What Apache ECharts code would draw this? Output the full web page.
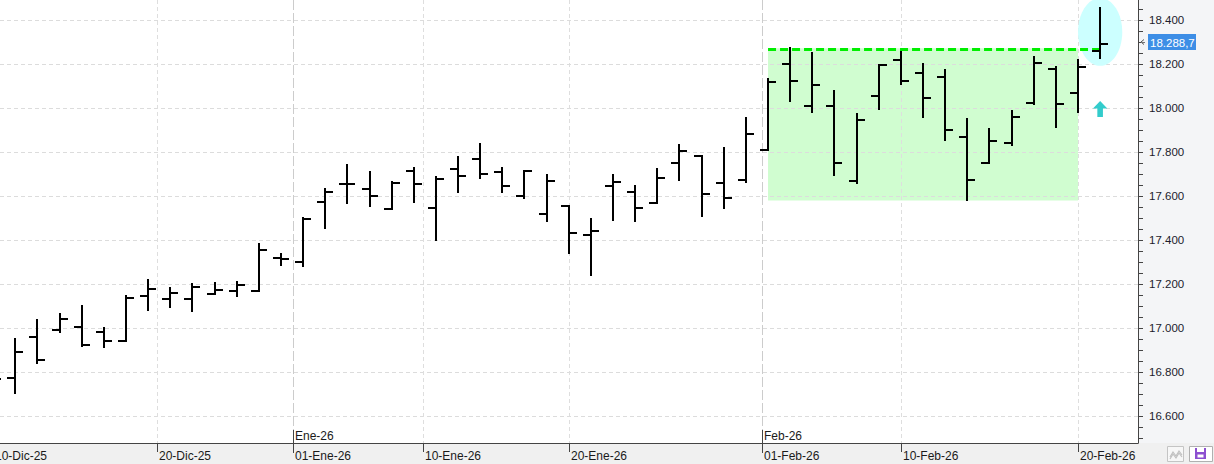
<!DOCTYPE html>
<html>
<head>
<meta charset="utf-8">
<script src="https://cdn.jsdelivr.net/npm/echarts@6/dist/echarts.min.js"></script>
<style>
html,body{margin:0;padding:0;background:#ffffff;}
#chart{width:1214px;height:464px;}
</style>
</head>
<body>
<div id="chart"></div>
<script>
// ---------- DATA ----------
const dates = [
  '10-Dic-25','11-Dic-25','12-Dic-25','15-Dic-25','16-Dic-25','17-Dic-25','18-Dic-25','19-Dic-25',
  '22-Dic-25','23-Dic-25','24-Dic-25','29-Dic-25','30-Dic-25','31-Dic-25',
  '02-Ene-26','05-Ene-26','06-Ene-26','07-Ene-26','08-Ene-26','09-Ene-26','12-Ene-26','13-Ene-26',
  '14-Ene-26','15-Ene-26','16-Ene-26','19-Ene-26','20-Ene-26','21-Ene-26','22-Ene-26','23-Ene-26',
  '26-Ene-26','27-Ene-26','28-Ene-26','29-Ene-26','30-Ene-26',
  '02-Feb-26','03-Feb-26','04-Feb-26','05-Feb-26','06-Feb-26','09-Feb-26','10-Feb-26','11-Feb-26',
  '12-Feb-26','13-Feb-26','16-Feb-26','17-Feb-26','18-Feb-26','19-Feb-26','20-Feb-26','23-Feb-26'
];
const opens = [
  16740,16771,16961,16991,17006,16980,16941,17145,
  17130,17132,17153,17170,17168,17320,
  17301,17574,17653,17632,17541,17714,17547,17721,
  17767,17710,17600,17518,17556,17423,17645,17620,
  17570,17749,17783,17661,17673,
  17810,18201,18009,18009,17668,18055,18218,18159,
  18142,17868,17750,17842,18024,18176,18070,18259
];
const highs = [
  16830,16953,17040,17070,17105,17006,17150,17221,
  17188,17206,17210,17215,17388,17342,
  17506,17635,17744,17714,17670,17730,17691,17782,
  17839,17730,17715,17700,17556,17499,17700,17650,
  17726,17836,17783,17821,17958,
  18135,18276,18253,18080,17976,18197,18259,18203,
  18176,17953,17908,17991,18236,18191,18223,18460
];
const lows = [
  16700,16699,16835,16976,16912,16908,16935,17079,
  17092,17074,17150,17139,17162,17283,
  17279,17449,17562,17551,17536,17567,17397,17615,
  17676,17612,17585,17480,17335,17238,17488,17480,
  17562,17670,17506,17541,17658,
  17805,18029,17979,17692,17653,17990,18103,17956,
  17851,17579,17747,17829,18014,17908,17979,18223
];
const closes = [
  16768,16890,16855,17041,16921,16942,17138,17176,
  17161,17188,17173,17195,17355,17312,
  17495,17620,17653,17601,17658,17653,17677,17692,
  17698,17647,17715,17668,17432,17442,17664,17547,
  17683,17806,17609,17592,17882,
  18120,18123,18106,17751,17945,18197,18123,18045,
  17901,17673,17851,17960,18203,18020,18188,18288.7
];
const yTicks = [16600,16800,17000,17200,17400,17600,17800,18000,18200,18400];
const yMinorTicks = [16500,16550,16600,16650,16700,16750,16800,16850,16900,16950,17000,17050,17100,17150,
  17200,17250,17300,17350,17400,17450,17500,17550,17600,17650,17700,17750,17800,17850,17900,17950,
  18000,18050,18100,18150,18200,18250,18300,18350,18400,18450];
const xTickPos = [0, 7.4, 13.53, 19.4, 26, 34.72, 41, 49];
const xTickLabels = ['10-Dic-25','20-Dic-25','01-Ene-26','10-Ene-26','20-Ene-26','01-Feb-26','10-Feb-26','20-Feb-26'];
const monthPos = [13.53, 34.72];
const monthLabels = ['Ene-26','Feb-26'];
const zoneBox = [35, 49, 17580, 18272];      // from index, to index, low, high
const resistance = [35, 50, 18268];           // from index, to index, level
const highlight = [50, 18346, 1.0, 154];      // center index, center value, half width (index), half height (value)
const signalArrow = [50, 17959];              // index, base value
const lastPrice = 18288.7;

// ---------- HELPERS ----------
const FONT = '"Liberation Sans", Arial, sans-serif';
function fmtThousands(v){
  const s = String(Math.trunc(v));
  return s.replace(/\B(?=(\d{3})+(?!\d))/g, '.');
}
function fmtPrice(v){
  const ip = Math.trunc(v);
  const dec = Math.round((v - ip) * 10);
  return fmtThousands(ip) + ',' + dec;
}
const X_MIN = 0.31, X_MAX = 51.71;

const chart = echarts.init(document.getElementById('chart'), null, {renderer: 'svg', width: 1214, height: 464});

const option = {
  animation: false,
  backgroundColor: '#ffffff',
  grid: {left: 0, right: 76, top: 0, bottom: 21, containLabel: false, outerBoundsMode: 'none'},
  graphic: [
    {type: 'rect', z: -10, silent: true, shape: {x: 1138, y: 0, width: 76, height: 443}, style: {fill: '#f4f5f7'}},
    {type: 'rect', z: -10, silent: true, shape: {x: 0, y: 443, width: 1214, height: 21}, style: {fill: '#f0f0f0'}},
    {type: 'rect', z: 10, silent: true, shape: {x: 1167.5, y: 446.5, width: 16, height: 15}, style: {fill: '#f7f7f7', stroke: '#c4c4c4', lineWidth: 1}},
    {type: 'polyline', z: 11, silent: true, shape: {points: [[1170,457],[1173,452],[1176,456],[1179,451],[1182,455]]}, style: {stroke: '#c0c0c0', lineWidth: 1.2, fill: null}},
    {type: 'polyline', z: 11, silent: true, shape: {points: [[1170,459],[1173,454],[1176,458],[1179,453],[1182,457]]}, style: {stroke: '#c0c0c0', lineWidth: 1.2, fill: null}},
    {type: 'rect', z: 10, silent: true, shape: {x: 1189.5, y: 446.5, width: 23, height: 15}, style: {fill: '#ffffff', stroke: '#b0b0b0', lineWidth: 1}},
    {type: 'rect', z: 11, silent: true, shape: {x: 1195, y: 448, width: 11, height: 11}, style: {fill: '#8c4fd0'}},
    {type: 'rect', z: 12, silent: true, shape: {x: 1197, y: 448, width: 7, height: 4}, style: {fill: '#ffffff'}},
    {type: 'rect', z: 12, silent: true, shape: {x: 1197.5, y: 454.5, width: 6, height: 3}, style: {fill: '#ffffff'}}
  ],
  xAxis: {
    type: 'value', min: X_MIN, max: X_MAX,
    axisLine: {show: true, onZero: false, lineStyle: {color: '#444444', width: 1}},
    axisTick: {show: false}, axisLabel: {show: false}, splitLine: {show: false}
  },
  yAxis: {
    type: 'value', position: 'right', min: 16477, max: 18491,
    axisLine: {show: true, lineStyle: {color: '#444444', width: 1}},
    axisTick: {show: true, length: 5, customValues: yMinorTicks, lineStyle: {color: '#444444'}},
    axisLabel: {show: true, customValues: yTicks, margin: 11, color: '#1c1c2c', fontSize: 11.5, fontFamily: FONT,
      formatter: v => fmtThousands(v)},
    splitLine: {show: false}, minorTick: {show: false}
  },
  series: [
    { // consolidation zone
      type: 'custom', z: 1, silent: true, clip: true,
      data: [zoneBox],
      encode: {x: [0, 1], y: [2, 3]},
      renderItem(params, api){
        const p1 = api.coord([api.value(0), api.value(3)]);
        const p2 = api.coord([api.value(1), api.value(2)]);
        return {type: 'rect', shape: {x: p1[0], y: p1[1], width: p2[0] - p1[0], height: p2[1] - p1[1]},
          style: {fill: '#d0fdd0'}};
      }
    },
    { // horizontal grid lines
      type: 'custom', z: 2, silent: true,
      data: yTicks.map(v => [v]),
      encode: {y: 0},
      renderItem(params, api){
        const cs = params.coordSys;
        const y = Math.round(api.coord([X_MIN, api.value(0)])[1]) + 0.5;
        return {type: 'line', shape: {x1: cs.x, y1: y, x2: cs.x + cs.width, y2: y},
          style: {stroke: '#dcdcdc', lineWidth: 1, lineDash: [4, 3]}};
      }
    },
    { // vertical grid lines, date ticks and labels
      type: 'custom', z: 2, silent: true, clip: false,
      data: xTickPos.map((p, i) => [p, i]),
      encode: {x: 0},
      renderItem(params, api){
        const cs = params.coordSys;
        const pos = api.value(0);
        const idx = api.value(1);
        const x = Math.round(api.coord([pos, 18000])[0]) + 0.5;
        const bottom = cs.y + cs.height;
        const mi = monthPos.indexOf(pos);
        const ch = [];
        if (mi >= 0) {
          ch.push({type: 'line', shape: {x1: x, y1: cs.y, x2: x, y2: bottom - 13},
            style: {stroke: '#cccccc', lineWidth: 1, lineDash: [10, 3]}});
          ch.push({type: 'line', shape: {x1: x, y1: bottom - 13, x2: x, y2: bottom + 10},
            style: {stroke: '#444444', lineWidth: 1}});
          ch.push({type: 'text', x: x + 1.5, y: bottom - 7.5,
            style: {text: monthLabels[mi], fill: '#1a1a1a', font: '12px ' + FONT, align: 'left', verticalAlign: 'middle'}});
        } else {
          ch.push({type: 'line', shape: {x1: x, y1: cs.y, x2: x, y2: bottom},
            style: {stroke: '#dedede', lineWidth: 1, lineDash: [4, 3]}});
          ch.push({type: 'line', shape: {x1: x, y1: bottom, x2: x, y2: bottom + 9},
            style: {stroke: '#444444', lineWidth: 1}});
        }
        ch.push({type: 'text', x: x + 1.5, y: bottom + 12.5,
          style: {text: xTickLabels[idx], fill: '#1a1a1a', font: '12px ' + FONT, align: 'left', verticalAlign: 'middle'}});
        return {type: 'group', children: ch};
      }
    },
    { // highlight ellipse
      type: 'custom', z: 3, silent: true, clip: true,
      data: [highlight],
      encode: {x: 0, y: 1},
      renderItem(params, api){
        const c = api.coord([api.value(0), api.value(1)]);
        const e = api.coord([api.value(0) + api.value(2), api.value(1) + api.value(3)]);
        return {type: 'ellipse', shape: {cx: c[0], cy: c[1], rx: e[0] - c[0], ry: c[1] - e[1]},
          style: {fill: '#ccffff'}};
      }
    },
    { // resistance dashed line
      type: 'custom', z: 4, silent: true, clip: true,
      data: [resistance],
      encode: {x: [0, 1], y: 2},
      renderItem(params, api){
        const p1 = api.coord([api.value(0), api.value(2)]);
        const p2 = api.coord([api.value(1), api.value(2)]);
        const y = Math.round(p1[1]) + 0.5;
        return {type: 'line', shape: {x1: p1[0], y1: y, x2: p2[0], y2: y},
          style: {stroke: '#00ee00', lineWidth: 3, lineDash: [8, 4]}};
      }
    },
    { // OHLC bars
      type: 'custom', z: 5, clip: true,
      name: 'OHLC',
      data: dates.map((d, i) => [i, opens[i], highs[i], lows[i], closes[i]]),
      encode: {x: 0, y: [1, 2, 3, 4]},
      renderItem(params, api){
        const i = api.value(0);
        const pO = api.coord([i, api.value(1)]);
        const pH = api.coord([i, api.value(2)]);
        const pL = api.coord([i, api.value(3)]);
        const pC = api.coord([i, api.value(4)]);
        const x = Math.round(pO[0]);
        const st = {stroke: '#000000', lineWidth: 2};
        const yo = Math.round(pO[1]), yc = Math.round(pC[1]);
        return {type: 'group', children: [
          {type: 'line', shape: {x1: x, y1: Math.round(pH[1]), x2: x, y2: Math.round(pL[1])}, style: st},
          {type: 'line', shape: {x1: x - 8, y1: yo, x2: x + 1, y2: yo}, style: st},
          {type: 'line', shape: {x1: x - 1, y1: yc, x2: x + 8, y2: yc}, style: st}
        ]};
      }
    },
    { // signal arrow
      type: 'custom', z: 6, silent: true, clip: false,
      data: [signalArrow],
      encode: {x: 0, y: 1},
      renderItem(params, api){
        const p = api.coord([api.value(0), api.value(1)]);
        const cx = p[0], by = p[1];
        return {type: 'polygon', shape: {points: [
          [cx - 2.8, by], [cx - 2.8, by - 8.5], [cx - 7.2, by - 8.5], [cx, by - 16],
          [cx + 7.2, by - 8.5], [cx + 2.8, by - 8.5], [cx + 2.8, by]
        ]}, style: {fill: '#33cccc'}};
      }
    },
    { // last price label
      type: 'custom', z: 20, silent: true, clip: false,
      data: [[50, lastPrice]],
      encode: {x: 0, y: 1},
      renderItem(params, api){
        const cs = params.coordSys;
        const p = api.coord([api.value(0), api.value(1)]);
        const ax = cs.x + cs.width;
        const cy = Math.round(p[1]) - 2;
        return {type: 'group', children: [
          {type: 'polyline', shape: {points: [[ax + 6, cy - 2.5], [ax + 3, cy], [ax + 6, cy + 2.5]]},
            style: {stroke: '#555555', lineWidth: 1, fill: null}},
          {type: 'line', shape: {x1: ax + 3, y1: cy + 0.5, x2: ax + 7, y2: cy + 0.5}, style: {stroke: '#777777', lineWidth: 1}},
          {type: 'rect', shape: {x: ax + 10, y: cy - 8, width: 48, height: 16}, style: {fill: '#3d8ee6'}},
          {type: 'text', x: ax + 12, y: cy + 0.5,
            style: {text: fmtPrice(api.value(1)), fill: '#ffffff', font: '11.5px ' + FONT, align: 'left', verticalAlign: 'middle'}}
        ]};
      }
    }
  ]
};
chart.setOption(option);
</script>
</body>
</html>
